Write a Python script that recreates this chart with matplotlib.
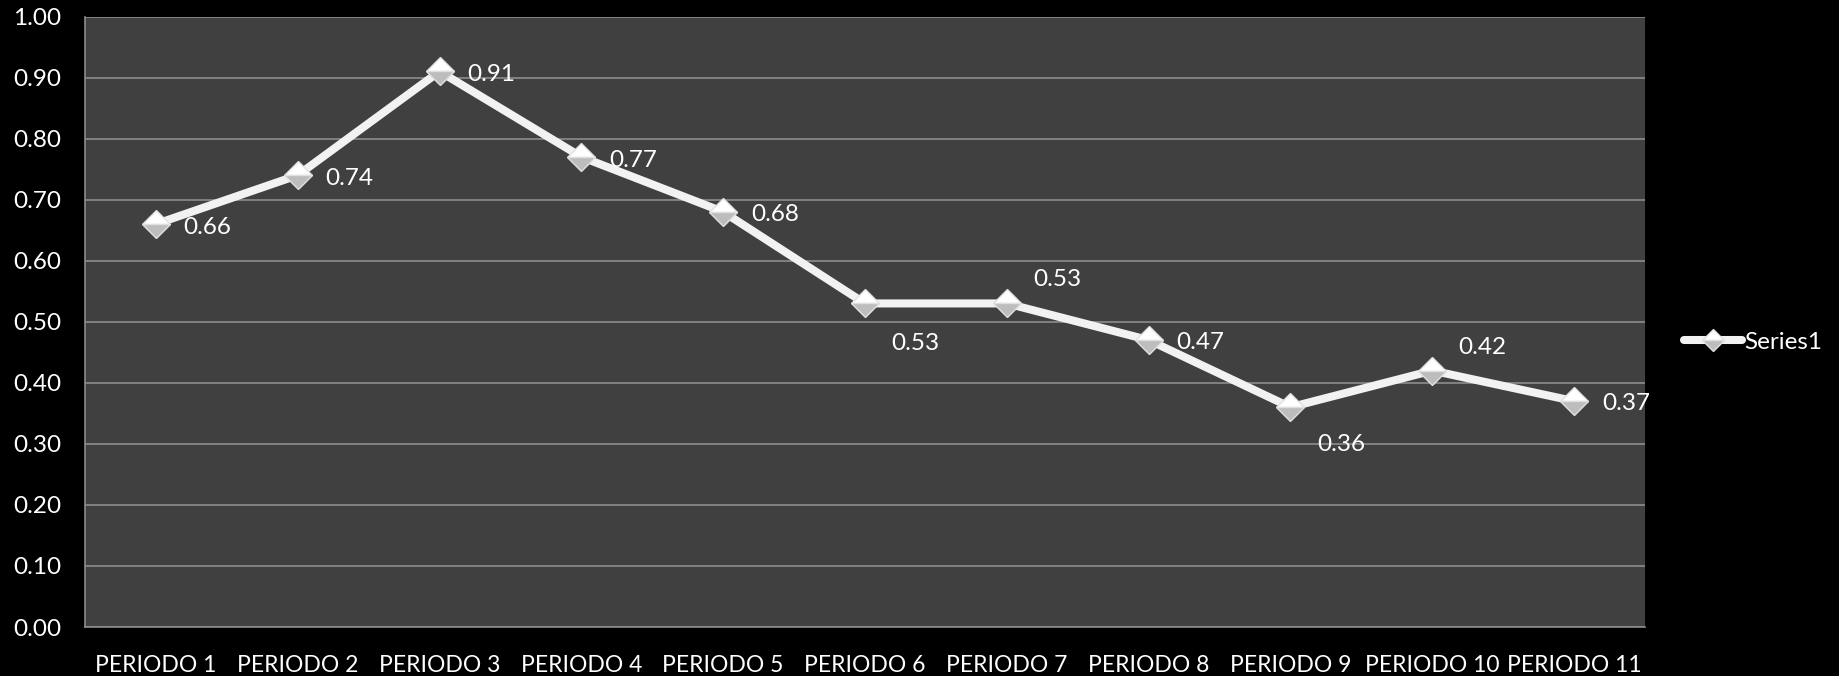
import matplotlib
matplotlib.use("Agg")
import matplotlib.pyplot as plt
import numpy as np

categories = ["PERIODO 1", "PERIODO 2", "PERIODO 3", "PERIODO 4", "PERIODO 5",
              "PERIODO 6", "PERIODO 7", "PERIODO 8", "PERIODO 9", "PERIODO 10",
              "PERIODO 11"]
values = [0.66, 0.74, 0.91, 0.77, 0.68, 0.53, 0.53, 0.47, 0.36, 0.42, 0.37]
series_name = "Series1"
y_ticks = [0.0, 0.1, 0.2, 0.3, 0.4, 0.5, 0.6, 0.7, 0.8, 0.9, 1.0]

# label placement per point: offset in points (dx, dy)
label_offsets = [(20, -2.5), (20, -2.5), (20, -2.5), (20, -2.5), (20, -2),
                 (19, -29), (19, 17.5), (20, -2), (19, -27), (19, 16.5), (20, -2)]

plt.rcParams['font.family'] = ['Lato', 'DejaVu Sans']

fig = plt.figure(figsize=(18.39, 6.76), dpi=100, facecolor='black')
ax = fig.add_axes([85 / 1839, 1 - 627 / 676, (1645 - 85) / 1839, (627 - 16.5) / 676])
ax.set_facecolor('#404040')

x = np.arange(len(categories))
ax.plot(x, values, color='#f2f2f2', lw=5.8, solid_capstyle='round', zorder=3,
        marker='D', markersize=14, fillstyle='top',
        markerfacecolor='#ffffff', markerfacecoloralt='#bdbdbd',
        markeredgecolor='#e0e0e0', markeredgewidth=1.0, label=series_name)

for xi, v, (dx, dy) in zip(x, values, label_offsets):
    ax.annotate(f"{v:.2f}", (xi, v), xytext=(dx, dy), textcoords='offset points',
                ha='left', va='center', color='white', fontsize=17.5, zorder=4)

ax.set_xlim(-0.5, len(categories) - 0.5)
ax.set_ylim(0, 1.0)
ax.set_yticks(y_ticks)
ax.set_yticklabels([f"{t:.2f}" for t in y_ticks])
ax.set_xticks(x)
ax.set_xticklabels(categories)
ax.tick_params(axis='both', colors='white', length=0)
ax.tick_params(axis='y', pad=17, labelsize=17.5)
ax.tick_params(axis='x', pad=20, labelsize=16.5)
ax.grid(axis='y', color='#8c8c8c', lw=1.2, zorder=1)
ax.set_axisbelow(True)
for side in ['top', 'right']:
    ax.spines[side].set_visible(False)
for side in ['left', 'bottom']:
    ax.spines[side].set_color('#8c8c8c')
    ax.spines[side].set_linewidth(1.2)

leg = fig.legend(loc='center left', bbox_to_anchor=(1674 / 1839, 1 - 342 / 676),
                 frameon=False, fontsize=17.5, handlelength=2.4, handletextpad=0.1,
                 borderaxespad=0, labelcolor='white', markerscale=0.8)

fig.savefig("out.png", dpi=100, facecolor='black')
